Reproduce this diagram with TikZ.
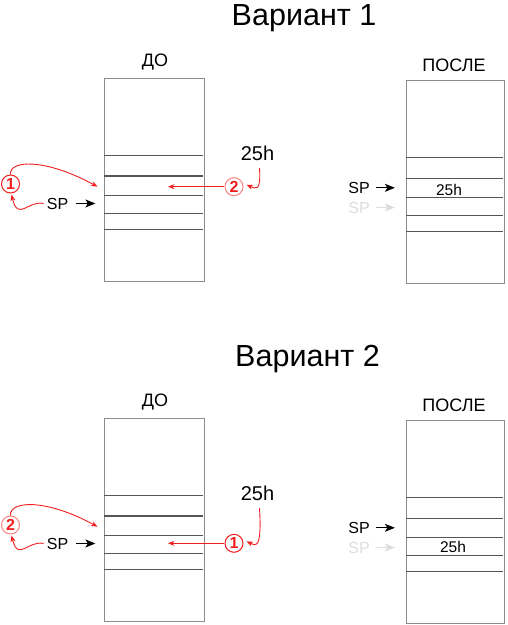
\documentclass[tikz,border=0pt]{standalone}
\usepackage{fontspec}
\setmainfont{Liberation Sans}
\usetikzlibrary{arrows.meta}
\definecolor{boxgray}{HTML}{8C8C8C}
\definecolor{rowgray}{HTML}{555555}
\definecolor{ghost}{HTML}{DDDDDD}
\definecolor{myred}{HTML}{F21E1E}
\begin{document}
\begin{tikzpicture}[x=1pt,y=-1pt,
 title/.style={font=\fontsize{30.5}{30.5}\selectfont, anchor=base},
 head/.style={font=\fontsize{18}{18}\selectfont, anchor=base},
 sp/.style={font=\fontsize{16}{16}\selectfont, anchor=base, inner sep=1pt},
 val/.style={font=\fontsize{20}{20}\selectfont, anchor=base, inner sep=1pt},
 cell/.style={font=\fontsize{15.5}{15.5}\selectfont, anchor=base},
 stackbox/.style={draw=boxgray, line width=0.9pt, minimum width=100pt, minimum height=203pt, inner sep=0pt, anchor=north west},
 row/.style={draw=rowgray, line width=1.1pt},
 sparr/.style={-{Stealth[length=10pt,width=8pt,inset=2.5pt]}, line width=1.1pt},
 redarr/.style={draw=myred, line width=0.9pt, -{Stealth[length=6.5pt,width=5pt]}},
 num/.style={circle, draw=myred, text=myred, line width=1pt, minimum size=18pt, inner sep=0pt, font=\fontsize{16}{16}\selectfont\bfseries},
 numlight/.style={num, draw=myred!55}]

\useasboundingbox (0,0) rectangle (507,625);

% ================= Variant 1 =================
\node[title] (t1) at (304,25) {Вариант 1};
\node[head] (h1a) at (155,66) {ДО};
\node[head] (h1b) at (454,71.5) {ПОСЛЕ};

\node[stackbox] (b1a) at (104,78) {};
\node[stackbox, minimum width=98pt] (b1b) at (405.5,80) {};
\foreach \yy in {155.5,176,195.3,213.3,229.3} \draw[row] (104,\yy) -- (203,\yy);
\foreach \yy in {157.3,178.3,197.3,215.3,231.7} \draw[row] (405.5,\yy) -- (503,\yy);

% left side
\node[sp] (sp1a) at (57.5,209) {SP};
\draw[sparr] ([xshift=7pt]sp1a.east) -- ([xshift=26pt]sp1a.east);
\node[num] (n1a) at (10.5,184) {1};
\coordinate (tg1a) at (97.5,186.7);
\draw[redarr] (n1a.north) .. controls (9,160) and (45,158) .. (tg1a);
\draw[redarr] ([xshift=-2pt]sp1a.west) .. controls (28,200) and (18,222) .. ([xshift=1pt,yshift=-1pt]n1a.south);
\node[val] (v1a) at (257.5,160.7) {25h};
\node[numlight] (n2a) at (234,186.7) {2};
\coordinate (tc1a) at (168,186.7);
\draw[redarr] ([xshift=-1pt]n2a.west) -- (tc1a);
\draw[redarr] ([xshift=2pt,yshift=-6pt]v1a.south) .. controls (261,192) and (256,189) .. ([xshift=3pt,yshift=2pt]n2a.east);

% right side
\node[sp] (sp1b) at (359,193.3) {SP};
\draw[sparr] ([xshift=5.5pt]sp1b.east) -- ([xshift=24pt]sp1b.east);
\node[sp, text=ghost] (sp1c) at (359,213) {SP};
\draw[sparr, draw=ghost] ([xshift=5.5pt]sp1c.east) -- ([xshift=24pt]sp1c.east);
\node[cell] (c1b) at (449,195) {25h};

% ================= Variant 2 =================
\node[title] (t2) at (307.5,366) {Вариант 2};
\node[head] (h2a) at (155,406) {ДО};
\node[head] (h2b) at (454,411.5) {ПОСЛЕ};

\node[stackbox] (b2a) at (104,418) {};
\node[stackbox, minimum width=98pt] (b2b) at (405.5,420) {};
\foreach \yy in {495.5,516,535.3,553.3,569.3} \draw[row] (104,\yy) -- (203,\yy);
\foreach \yy in {497.3,518.3,537.3,555.3,571.7} \draw[row] (405.5,\yy) -- (503,\yy);

% left side
\node[sp] (sp2a) at (57.5,549) {SP};
\draw[sparr] ([xshift=7pt]sp2a.east) -- ([xshift=26pt]sp2a.east);
\node[numlight] (n2b) at (10.5,525) {2};
\coordinate (tg2a) at (97.5,526.7);
\draw[redarr] (n2b.north) .. controls (9,501) and (45,498) .. (tg2a);
\draw[redarr] ([xshift=-2pt]sp2a.west) .. controls (28,540) and (18,562) .. ([xshift=1pt,yshift=-1pt]n2b.south);
\node[val] (v2a) at (257.5,500.7) {25h};
\node[num] (n1b) at (234,543.3) {1};
\coordinate (tc2a) at (168,543.3);
\draw[redarr] ([xshift=-1pt]n1b.west) -- (tc2a);
\draw[redarr] ([xshift=2pt,yshift=-6pt]v2a.south) .. controls (262,549) and (256,546) .. ([xshift=3pt,yshift=2pt]n1b.east);

% right side
\node[sp] (sp2b) at (359,533.3) {SP};
\draw[sparr] ([xshift=5.5pt]sp2b.east) -- ([xshift=24pt]sp2b.east);
\node[sp, text=ghost] (sp2c) at (359,553) {SP};
\draw[sparr, draw=ghost] ([xshift=5.5pt]sp2c.east) -- ([xshift=24pt]sp2c.east);
\node[cell] (c2b) at (453,552.5) {25h};
\end{tikzpicture}
\end{document}
